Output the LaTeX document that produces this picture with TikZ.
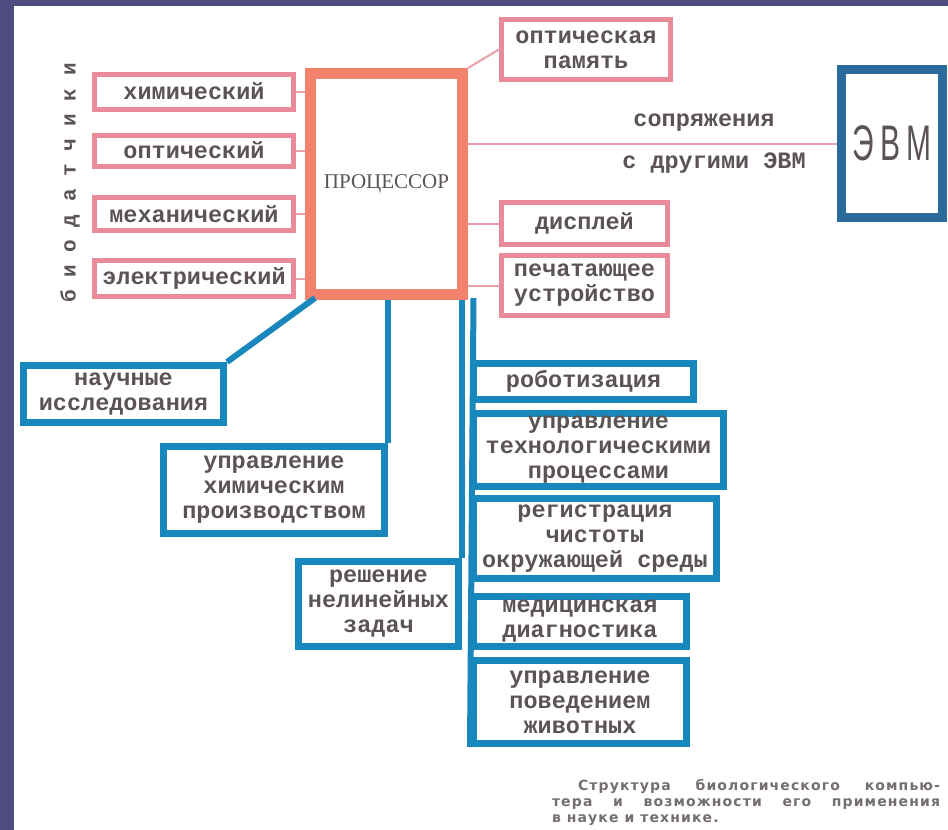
\documentclass[tikz,border=0pt]{standalone}
\usepackage{fontspec}
\setmainfont{Liberation Serif}
\newfontfamily\mono{Liberation Mono}
\newfontfamily\vmono[LetterSpace=60]{Liberation Mono}
\newfontfamily\capf[LetterSpace=8]{DejaVu Sans}
\newfontfamily\evmf[LetterSpace=22]{Liberation Sans}
\definecolor{slidebg}{HTML}{4F4C80}
\definecolor{pinkc}{HTML}{E98B99}
\definecolor{pinkline}{HTML}{E8A0A8}
\definecolor{procc}{HTML}{F2826D}
\definecolor{bluec}{HTML}{1888BC}
\definecolor{evmc}{HTML}{2A6B9C}
\definecolor{txt}{HTML}{5C5454}
\tikzset{
  boxtext/.style={inner sep=0pt, align=center, text=txt, font=\mono\bfseries\fontsize{23.5}{25}\selectfont},
  pinkbox/.style={boxtext, draw=pinkc, line width=5pt},
  bluebox/.style={boxtext, draw=bluec, line width=7pt},
  pinkconn/.style={draw=pinkline, line width=2pt},
  blueconn/.style={draw=bluec, line width=6pt},
  plain/.style={inner sep=0pt, text=txt, font=\mono\bfseries\fontsize{23.5}{25}\selectfont},
}
\begin{document}
\begin{tikzpicture}[x=1pt,y=-1pt]
\useasboundingbox (0,0) rectangle (948,830);
\fill[slidebg] (0,0) rectangle (948,830);
\fill[white] (14,6) rectangle (948,830);

% sensors
\node[pinkbox, minimum width=199pt, minimum height=35pt] (chem) at (194,91.5) {химический};
\node[pinkbox, minimum width=199pt, minimum height=31pt] (opt) at (194,150.5) {оптический};
\node[pinkbox, minimum width=199pt, minimum height=33pt] (mech) at (194,214) {механический};
\node[pinkbox, minimum width=199pt, minimum height=36pt] (elec) at (194,278.5) {электрический};
\node[rotate=90, inner sep=0pt, text=txt, font=\vmono\bfseries\fontsize{21}{21}\selectfont] (bio) at (70,183) {биодатчики};

% processor
\node[draw=procc, line width=11pt, minimum width=152pt, minimum height=221pt, inner sep=0pt,
      text=txt, font=\fontsize{21}{21}\selectfont] (proc) at (386.5,184) {ПРОЦЕССОР};

% right pink boxes
\node[pinkbox, minimum width=169pt, minimum height=60pt] (mem) at (586,49.5) {оптическая\\память};
\node[pinkbox, minimum width=166pt, minimum height=42pt] (disp) at (584.5,223.5) {дисплей};
\node[pinkbox, minimum width=166pt, minimum height=60pt] (prn) at (584.5,285.5) {печатающее\\устройство};

% EVM
\node[draw=evmc, line width=9pt, minimum width=101pt, minimum height=148pt, inner sep=0pt,
      text=txt, font=\evmf\fontsize{50}{50}\selectfont] (evm) at (892,143.5) {\scalebox{0.6}[1]{ЭВМ}};

% blue boxes
\node[bluebox, minimum width=200pt, minimum height=57pt] (sci) at (123.5,394) {научные\\исследования};
\node[bluebox, minimum width=221pt, minimum height=87pt] (chp) at (274,490) {управление\\химическим\\производством};
\node[bluebox, minimum width=160pt, minimum height=85pt] (nlin) at (378.5,604) {решение\\нелинейных\\задач};
\node[bluebox, minimum width=220pt, minimum height=36pt] (rob) at (583.5,381.5) {роботизация};
\node[bluebox, minimum width=250pt, minimum height=73pt] (tech) at (598.5,450) {управление\\технологическими\\процессами};
\node[bluebox, minimum width=243pt, minimum height=80pt] (env) at (595,538.5) {регистрация\\чистоты\\окружающей среды};
\node[bluebox, minimum width=213pt, minimum height=50pt] (med) at (580,621.5) {медицинская\\диагностика};
\node[bluebox, minimum width=213pt, minimum height=83pt] (anim) at (580,702) {управление\\поведением\\животных};

% pink connectors
\foreach \b in {chem,opt,mech,elec} \draw[pinkconn] (\b.east) -- (proc.west |- \b.east);
\draw[pinkconn] (proc.north east) -- (mem.west);
\draw[pinkconn] (proc.east |- disp.west) -- (disp.west);
\draw[pinkconn] (proc.east |- prn.west) -- (prn.west);
\draw[pinkconn] (proc.east |- evm.west) -- (evm.west);
\node[plain] (link1) at (704,123) {сопряжения};
\node[plain] (link2) at (714,163) {с другими ЭВМ};

% blue connectors
\coordinate (pb1) at (315,298);
\draw[blueconn] (pb1) -- (sci.north east);
\draw[blueconn] (chp.north east |- proc.south) -- (chp.north east);
\draw[blueconn] (nlin.north east |- proc.south) -- (nlin.north east);
\coordinate (rtop) at (473.5,298);
\draw[blueconn] (rtop) -- (anim.south west);

% caption
\node[text width=388pt, align=justify, inner sep=0pt, text=txt!85,
      font=\capf\bfseries\fontsize{14}{16}\selectfont] (cap) at (746,802)
  {\hspace*{26pt}Структура биологического компью-\linebreak тера и возможности его применения\linebreak в науке и технике.};
\end{tikzpicture}
\end{document}
